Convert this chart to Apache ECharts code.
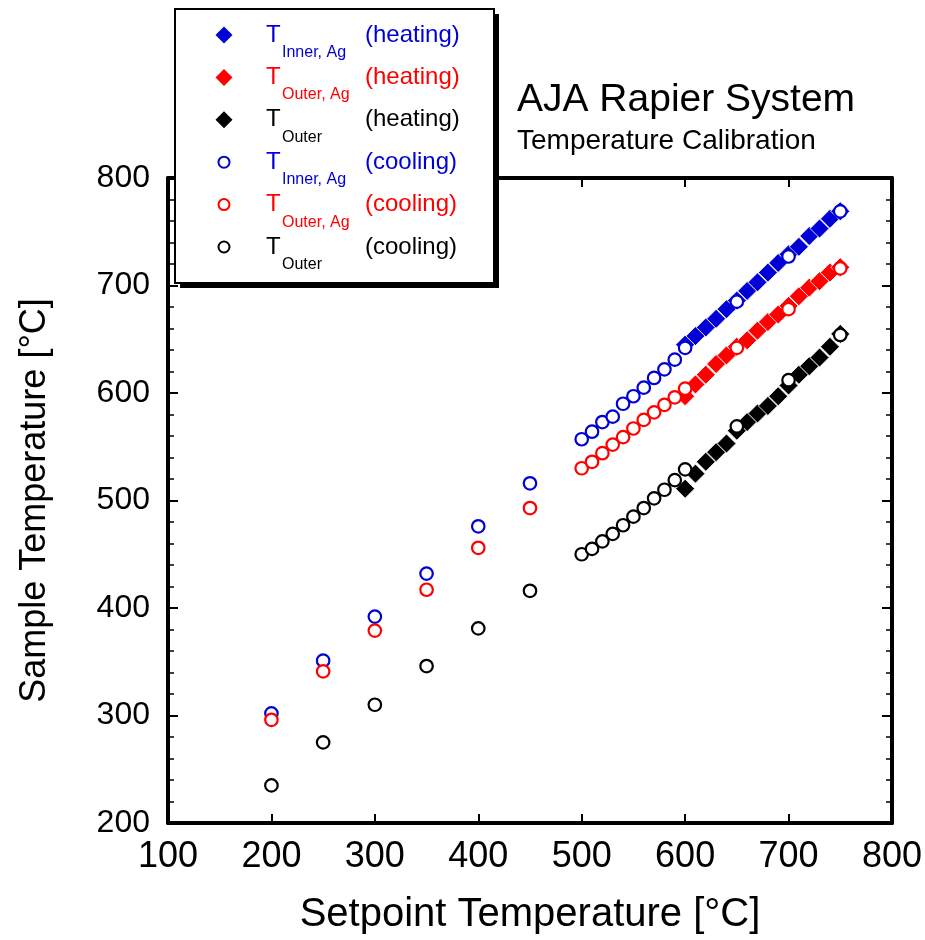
<!DOCTYPE html>
<html>
<head>
<meta charset="utf-8">
<script src="https://cdn.jsdelivr.net/npm/echarts@6/dist/echarts.min.js"></script>
<style>
html,body{margin:0;padding:0;background:#fff;}
#chart{width:925px;height:940px;}
</style>
</head>
<body>
<div id="chart"></div>
<script>
// ---- data ----
const setpointCool = [200,250,300,350,400,450,500,510,520,530,540,550,560,570,580,590,600,650,700,750];
const innerAgCool  = [302,351,392,432,476,516,557,564,573,578,590,597,605,614,622,631,642,685,727,769];
const outerAgCool  = [296,341,379,417,456,493,530,536,544,552,559,567,575,582,589,596,604,642,678,716];
const outerCool    = [235,275,310,346,381,416,450,455,462,469,477,485,493,502,510,519,529,569,612,654];

const setpointHeat = [600,610,620,630,640,650,660,670,680,690,700,710,720,730,740,750];
const innerAgHeat  = [645,653,661,669,678,686,695,703,712,721,729,736,746,753,762,769];
const outerAgHeat  = [597,608,617,627,635,643,649,658,666,673,681,690,698,704,712,717];
const outerHeat    = [511,525,536,545,553,565,573,581,588,597,607,617,625,633,643,655];

const xTicks = [100,200,300,400,500,600,700,800];
const yTicks = [200,300,400,500,600,700,800];

const legendMain = ['T','T','T','T','T','T'];
const legendSub  = ['Inner, Ag','Outer, Ag','Outer','Inner, Ag','Outer, Ag','Outer'];
const legendMode = ['(heating)','(heating)','(heating)','(cooling)','(cooling)','(cooling)'];
const legendKind = ['diamond','diamond','diamond','circle','circle','circle'];

const BLUE = '#0000d6', RED = '#ff0000', BLACK = '#000000';
const legendColor = [BLUE, RED, BLACK, BLUE, RED, BLACK];
const FONT = '"Liberation Sans", Arial, Helvetica, sans-serif';

function zip(xs, ys){ return xs.map((x,i)=>[x, ys[i]]); }

function heatSeries(name, ys, color){
  return {
    name, type:'scatter', data: zip(setpointHeat, ys),
    symbol:'diamond', symbolSize:19,
    itemStyle:{color, borderColor:'#ffffff', borderWidth:0.8, opacity:1},
    emphasis:{disabled:true}, z:3
  };
}
function coolSeries(name, ys, color){
  return {
    name, type:'scatter', data: zip(setpointCool, ys),
    symbol:'circle', symbolSize:12.5,
    itemStyle:{color:'#ffffff', borderColor:color, borderWidth:2.2, opacity:1},
    emphasis:{disabled:true}, z:4
  };
}

// ---- legend drawn as graphic ----
const LX = 175, LY = 9, LW = 319, LH = 274;
const graphics = [
  {type:'rect', shape:{x:LX+5, y:LY+5, width:LW, height:LH}, style:{fill:'#000'}, z:10, silent:true},
  {type:'rect', shape:{x:LX, y:LY, width:LW, height:LH}, style:{fill:'#fff', stroke:'#000', lineWidth:2}, z:11, silent:true}
];
const rowY0 = 35, rowPitch = 42.4;
legendMain.forEach((t,i)=>{
  const cy = rowY0 + i*rowPitch, c = legendColor[i];
  if (legendKind[i] === 'diamond') {
    const r = 8.5;
    graphics.push({type:'polygon', shape:{points:[[224,cy-r],[224+r,cy],[224,cy+r],[224-r,cy]]}, style:{fill:c}, z:12, silent:true});
  } else {
    graphics.push({type:'circle', shape:{cx:224, cy:cy, r:5.5}, style:{fill:'#fff', stroke:c, lineWidth:2}, z:12, silent:true});
  }
  graphics.push({type:'text', x:266, y:cy, style:{text:t, fill:c, font:'24px '+FONT, verticalAlign:'middle', align:'left'}, z:12, silent:true});
  graphics.push({type:'text', x:282, y:cy+17.5, style:{text:legendSub[i], fill:c, font:'16px '+FONT, verticalAlign:'middle', align:'left'}, z:12, silent:true});
  graphics.push({type:'text', x:365, y:cy, style:{text:legendMode[i], fill:c, font:'24px '+FONT, verticalAlign:'middle', align:'left'}, z:12, silent:true});
});
graphics.push({type:'text', x:517, y:100, style:{text:'AJA Rapier System', fill:'#000', font:'39px '+FONT, verticalAlign:'middle', align:'left'}, z:12, silent:true});
graphics.push({type:'text', x:517, y:141, style:{text:'Temperature Calibration', fill:'#000', font:'28px '+FONT, verticalAlign:'middle', align:'left'}, z:12, silent:true});

const axisLine = {show:true, onZero:false, lineStyle:{color:'#000', width:4}};
const tickStyle = {color:'#000', width:2};

const option = {
  animation:false,
  backgroundColor:'#ffffff',
  textStyle:{fontFamily:FONT},
  grid:{left:168, right:32, top:178, bottom:114, containLabel:false},
  xAxis:[
    {type:'value', min:xTicks[0], max:xTicks[xTicks.length-1], interval:100, position:'bottom',
     axisLine, axisTick:{show:true, inside:true, length:9, lineStyle:tickStyle},
     axisLabel:{show:true, fontSize:36, color:'#000', margin:16, fontFamily:FONT},
     splitLine:{show:false},
     name:'Setpoint Temperature [°C]', nameLocation:'middle', nameGap:72,
     nameTextStyle:{fontSize:40, color:'#000', fontFamily:FONT}},
    {type:'value', min:xTicks[0], max:xTicks[xTicks.length-1], interval:100, position:'top',
     axisLine, axisTick:{show:true, inside:true, length:9, lineStyle:tickStyle},
     axisLabel:{show:false}, splitLine:{show:false}}
  ],
  yAxis:[
    {type:'value', min:yTicks[0], max:yTicks[yTicks.length-1], interval:100, position:'left',
     axisLine, axisTick:{show:true, inside:true, length:10, lineStyle:tickStyle},
     minorTick:{show:true, splitNumber:5, length:6, lineStyle:{color:'#000', width:1.5}},
     axisLabel:{show:true, fontSize:32, color:'#000', margin:18, fontFamily:FONT},
     splitLine:{show:false}, minorSplitLine:{show:false},
     name:'Sample Temperature [°C]', nameLocation:'middle', nameGap:115,
     nameTextStyle:{fontSize:36, color:'#000', fontFamily:FONT}},
    {type:'value', min:yTicks[0], max:yTicks[yTicks.length-1], interval:100, position:'right',
     axisLine, axisTick:{show:true, inside:true, length:10, lineStyle:tickStyle},
     minorTick:{show:true, splitNumber:5, length:6, lineStyle:{color:'#000', width:1.5}},
     axisLabel:{show:false}, splitLine:{show:false}}
  ],
  series:[
    heatSeries('T Inner, Ag (heating)', innerAgHeat, BLUE),
    heatSeries('T Outer, Ag (heating)', outerAgHeat, RED),
    heatSeries('T Outer (heating)', outerHeat, BLACK),
    coolSeries('T Inner, Ag (cooling)', innerAgCool, BLUE),
    coolSeries('T Outer, Ag (cooling)', outerAgCool, RED),
    coolSeries('T Outer (cooling)', outerCool, BLACK)
  ],
  graphic: graphics
};

const chart = echarts.init(document.getElementById('chart'), null, {renderer:'canvas'});
chart.setOption(option);
</script>
</body>
</html>
